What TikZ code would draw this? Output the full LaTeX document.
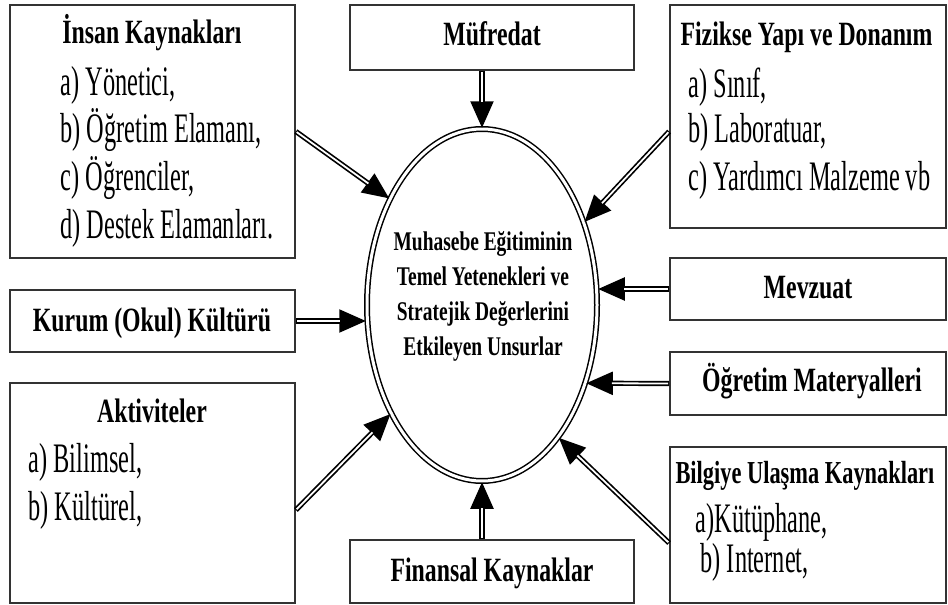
\documentclass[tikz,border=0pt]{standalone}
\usepackage{fontspec}
\setmainfont{Liberation Serif}
\newfontfamily\headfont[FakeStretch=0.7]{Liberation Serif}
\newfontfamily\itemfont[FakeStretch=0.58]{Liberation Serif}
\newfontfamily\midfont[FakeStretch=0.72]{Liberation Serif}
\usetikzlibrary{shapes,arrows.meta}
\tikzset{kutu/.style={rectangle,draw=black!80,line width=1.8pt,inner sep=0pt},
 ell/.style={ellipse,draw,double,line width=1.5pt,double distance=3pt,minimum width=230pt,minimum height=352pt,inner sep=0pt},
 merkez/.style={align=center,font=\midfont\bfseries\fontsize{27}{35}\selectfont},
 baslik/.style={anchor=base,font=\headfont\bfseries\fontsize{34}{40}\selectfont},
 madde/.style={anchor=base west,font=\itemfont\fontsize{42}{48}\selectfont},
 ok/.style={line width=5.2pt,-{Triangle[length=27pt,width=22pt]},postaction={draw=white,line width=1.8pt,-,shorten <=1pt,shorten >=26pt}}}

\begin{document}
\begin{tikzpicture}[x=1pt,y=-1pt]
    \useasboundingbox (0,0) rectangle (948,605);

    \node[kutu,minimum width=285pt,minimum height=253pt] (insan)at (152.5,131.5) {};
    \node[kutu,minimum width=284pt,minimum height=65pt] (mufredat)at (492,37.5) {};
    \node[kutu,minimum width=276pt,minimum height=223pt] (fizik)at (808,116.5) {};
    \node[kutu,minimum width=285pt,minimum height=62pt] (kurum)at (152.5,321) {};
    \node[kutu,minimum width=276pt,minimum height=62pt] (mevzuat)at (808,289) {};
    \node[kutu,minimum width=276pt,minimum height=63pt] (ogretim)at (808,383.5) {};
    \node[kutu,minimum width=285pt,minimum height=220pt] (aktivite)at (152.5,493) {};
    \node[kutu,minimum width=276pt,minimum height=156pt] (bilgi)at (808,525) {};
    \node[kutu,minimum width=284pt,minimum height=63pt] (finansal)at (492,571.5) {};

    \node[ell] (ell)at (482,305) {};
    \node[merkez] (merkezyazi)at (483,296) {Muhasebe Eğitiminin\\Temel Yetenekleri ve\\Stratejik Değerlerini\\Etkileyen Unsurlar};

    \node[baslik] (insanbas)at (152,43) {İnsan Kaynakları};
    \node[madde] (insana)at (57,95) {a) Yönetici,};
    \node[madde] (insanb)at (57,142) {b) Öğretim Elamanı,};
    \node[madde] (insanc)at (57,190) {c) Öğrenciler,};
    \node[madde] (insand)at (57,238) {d) Destek Elamanları.};

    \node[baslik] (mufredatbas)at (492,45) {Müfredat};

    \node[baslik,anchor=base west] (fizikbas)at (677,45) {Fizikse Yapı ve Donanım};
    \node[madde] (fizika)at (685,97) {a) Sınıf,};
    \node[madde] (fizikb)at (685,142) {b) Laboratuar,};
    \node[madde] (fizikc)at (685,190) {c) Yardımcı Malzeme vb};

    \node[baslik] (kurumbas)at (152,331) {Kurum (Okul) Kültürü};
    \node[baslik] (mevzuatbas)at (808,298) {Mevzuat};
    \node[baslik] (ogretimbas)at (812,391) {Öğretim Materyalleri};

    \node[baslik] (aktivitebas)at (152,422) {Aktiviteler};
    \node[madde] (aktivitea)at (25,472) {a) Bilimsel,};
    \node[madde] (aktiviteb)at (25,520) {b) Kültürel,};

    \node[baslik,anchor=base west,font=\headfont\bfseries\fontsize{32}{38}\selectfont] (bilgibas)at (672,483) {Bilgiye Ulaşma Kaynakları};
    \node[madde] (bilgia)at (692,532) {a)Kütüphane,};
    \node[madde] (bilgib)at (697,572) {b) Internet,};

    \node[baslik] (finansalbas)at (492,581) {Finansal Kaynaklar};

    \draw [ok] (insan.east) to [] (ell.131);
    \draw [ok] (ell.north |- mufredat.south) to [] (ell.north);
    \draw [ok] ([yshift=-15pt]fizik.west) to [] (ell.39);
    \draw [ok] (kurum.east) to [] (kurum.east -| ell.west);
    \draw [ok] (mevzuat.west) to [] (mevzuat.west -| ell.east);
    \draw [ok] (ogretim.west) to [] (ell.-37);
    \draw [ok] ([yshift=-17pt]aktivite.east) to [] (ell.230);
    \draw [ok] (ell.south |- finansal.north) to [] (ell.south);
    \draw [ok] ([yshift=-18pt]bilgi.west) to [] (ell.-60);
\end{tikzpicture}
\end{document}
